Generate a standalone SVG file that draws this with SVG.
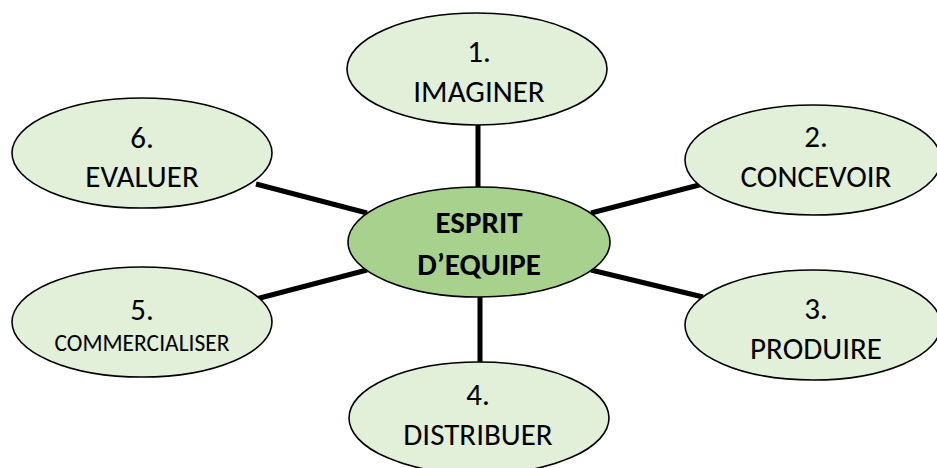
<svg xmlns="http://www.w3.org/2000/svg" width="937" height="468" viewBox="0 0 937 468">
  <style>
    .bg { fill: #ffffff; }
    .link { stroke: #000000; stroke-width: 5; stroke-linecap: butt; fill: none; }
    .step { fill: #E2EFD9; stroke: #000000; stroke-width: 1.6; }
    .hub { fill: #A9D18E; stroke: #000000; stroke-width: 1.6; }
    .lbl { font-family: Carlito, Calibri, "Liberation Sans", sans-serif; font-size: 31px; fill: #000000; text-anchor: middle; }
    .small { font-size: 23.5px; }
    .bold { font-weight: bold; font-size: 31px; }
  </style>
  <rect class="bg" x="0" y="0" width="937" height="468"/>

  <!-- spokes from the hub to each step -->
  <g id="connectors">
    <line class="link" x1="478" y1="124" x2="478" y2="190"/>
    <line class="link" x1="480" y1="295" x2="480" y2="364"/>
    <line class="link" x1="256" y1="184" x2="367" y2="213"/>
    <line class="link" x1="591" y1="213" x2="703" y2="184"/>
    <line class="link" x1="256" y1="299" x2="367" y2="270"/>
    <line class="link" x1="591" y1="270" x2="703" y2="297"/>
  </g>

  <g id="hub">
    <ellipse class="hub" cx="479" cy="242" rx="131" ry="55"/>
    <text class="lbl bold" x="479" y="233">ESPRIT</text>
    <text class="lbl bold" x="479" y="275">D’EQUIPE</text>
  </g>

  <g id="step1">
    <ellipse class="step" cx="477" cy="69" rx="130" ry="56"/>
    <text class="lbl" x="479" y="62">1.</text>
    <text class="lbl" x="479" y="102">IMAGINER</text>
  </g>

  <g id="step2">
    <ellipse class="step" cx="813" cy="160" rx="128" ry="55"/>
    <text class="lbl" x="816" y="147">2.</text>
    <text class="lbl" x="816" y="187">CONCEVOIR</text>
  </g>

  <g id="step3">
    <ellipse class="step" cx="813" cy="325" rx="128" ry="55"/>
    <text class="lbl" x="816" y="319">3.</text>
    <text class="lbl" x="816" y="359">PRODUIRE</text>
  </g>

  <g id="step4">
    <ellipse class="step" cx="479" cy="418" rx="130" ry="56"/>
    <text class="lbl" x="478" y="405">4.</text>
    <text class="lbl" x="478" y="445">DISTRIBUER</text>
  </g>

  <g id="step5">
    <ellipse class="step" cx="142" cy="322" rx="130" ry="55"/>
    <text class="lbl" x="142" y="320">5.</text>
    <text class="lbl small" x="142" y="351">COMMERCIALISER</text>
  </g>

  <g id="step6">
    <ellipse class="step" cx="142" cy="153" rx="130" ry="55"/>
    <text class="lbl" x="142" y="148">6.</text>
    <text class="lbl" x="142" y="187">EVALUER</text>
  </g>
</svg>
